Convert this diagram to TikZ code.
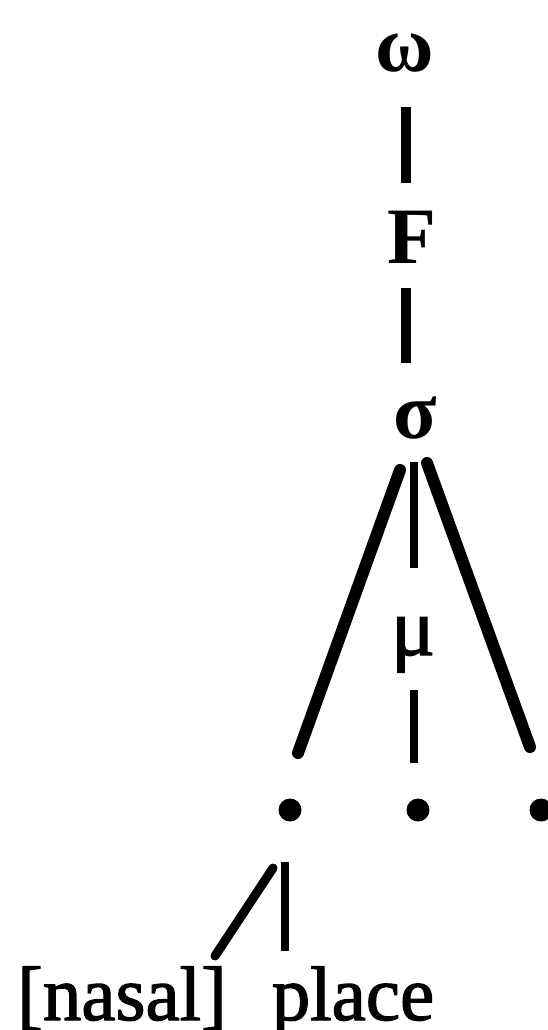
\documentclass[tikz,border=0pt]{standalone}
\usepackage{fontspec}
\setmainfont{Liberation Serif}
\newfontfamily\heavyserif[FakeBold=1.6]{Liberation Serif}
\begin{document}
\begin{tikzpicture}[x=1pt,y=-1pt,
  lbl/.style={inner sep=0pt,anchor=base,font=\fontsize{80}{90}\selectfont\bfseries},
  glbl/.style={inner sep=0pt,anchor=base,font=\fontsize{82}{90}\selectfont\heavyserif},
  txt/.style={inner sep=0pt,anchor=base,font=\fontsize{77}{90}\selectfont\heavyserif},
  dotnode/.style={circle,fill=black,inner sep=0pt,minimum size=23pt},
  edge/.style={line width=10pt},
  thick edge/.style={line width=12pt,line cap=round},
  thin edge/.style={line width=8pt}]
\useasboundingbox (0,0) rectangle (548,1030);
\fill[white] (0,0) rectangle (548,1030);
% nodes
\node[lbl] (omega) at (405,72) {ω};
\node[lbl] (F) at (412,263) {F};
\node[lbl] (sigma) at (415,438) {σ};
\node[glbl] (mu) at (413,655) {μ};
\node[dotnode] (d1) at (290,810) {};
\node[dotnode] (d2) at (418,810) {};
\node[dotnode] (d3) at (541,810) {};
\node[txt] (nasal) at (122,1020) {[nasal]};
\node[txt] (place) at (353,1020) {place};
% connector end points
\coordinate (a1) at (405.5,107); \coordinate (a2) at (405.5,183);
\coordinate (b1) at (406,288); \coordinate (b2) at (406,363);
\coordinate (c1) at (400,470); \coordinate (c2) at (298,753);
\coordinate (e1) at (413.5,462); \coordinate (e2) at (413.5,568);
\coordinate (f1) at (427,463); \coordinate (f2) at (530,747);
\coordinate (g1) at (413.5,690); \coordinate (g2) at (413.5,763);
\coordinate (h1) at (285,862); \coordinate (h2) at (285,951);
\coordinate (i1) at (273,868); \coordinate (i2) at (215,956);
% connectors
\draw[edge] (a1) -- (a2);
\draw[edge] (b1) -- (b2);
\draw[thick edge] (c1) -- (c2);
\draw[thin edge] (e1) -- (e2);
\draw[thick edge] (f1) -- (f2);
\draw[thin edge] (g1) -- (g2);
\draw[thin edge] (h1) -- (h2);
\draw[thick edge,line width=9pt] (i1) -- (i2);
\end{tikzpicture}
\end{document}
